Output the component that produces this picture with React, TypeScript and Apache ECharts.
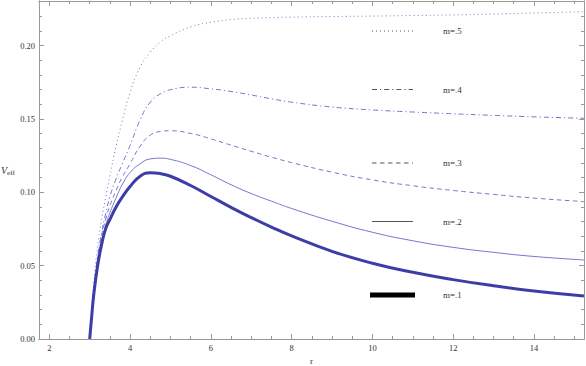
import React, { useEffect, useRef } from "react";
import * as echarts from "echarts";

const R = [3, 3.05, 3.1, 3.2, 3.3, 3.4, 3.5, 3.65, 3.8, 4, 4.25, 4.5, 4.75, 5, 5.5, 6, 6.5, 7, 7.5, 8, 9, 10, 11, 12, 13, 14, 15.24];

const V_M1 = [0, 0.0155, 0.030, 0.0505, 0.065, 0.0755, 0.0815, 0.0898, 0.0965, 0.104, 0.1110, 0.1133, 0.1128, 0.1110, 0.1047, 0.0972, 0.0898, 0.0828, 0.0763, 0.0703, 0.0598, 0.0517, 0.0455, 0.0405, 0.0363, 0.0327, 0.0293];
const V_M2 = [0, 0.016, 0.031, 0.052, 0.067, 0.078, 0.086, 0.096, 0.105, 0.1135, 0.1195, 0.1228, 0.1233, 0.1225, 0.1183, 0.1120, 0.1052, 0.0992, 0.0940, 0.0890, 0.0803, 0.0728, 0.0670, 0.0625, 0.0591, 0.0563, 0.0539];
const V_M3 = [0, 0.017, 0.033, 0.055, 0.071, 0.082, 0.091, 0.101, 0.110, 0.1195, 0.1315, 0.1390, 0.1415, 0.1420, 0.1402, 0.1365, 0.1322, 0.1280, 0.1240, 0.1203, 0.1138, 0.1085, 0.1045, 0.1013, 0.0986, 0.0961, 0.0937];
const V_M4 = [0, 0.018, 0.034, 0.057, 0.073, 0.086, 0.097, 0.109, 0.119, 0.132, 0.1495, 0.1615, 0.1672, 0.1700, 0.1717, 0.1706, 0.1688, 0.1664, 0.1638, 0.1615, 0.1582, 0.1562, 0.1548, 0.1536, 0.1525, 0.1515, 0.1505];
const V_M5 = [0, 0.020, 0.038, 0.064, 0.082, 0.097, 0.111, 0.131, 0.148, 0.168, 0.1855, 0.1955, 0.2025, 0.2068, 0.2128, 0.2160, 0.2178, 0.2187, 0.2192, 0.2195, 0.2199, 0.2202, 0.2206, 0.2210, 0.2216, 0.2223, 0.2233];

const LEGEND_LABELS = ["m=.5", "m=.4", "m=.3", "m=.2", "m=.1"];

const X_LABELS = [2, 4, 6, 8, 10, 12, 14];
const X_MINOR = [2, 2.5, 3, 3.5, 4, 4.5, 5, 5.5, 6, 6.5, 7, 7.5, 8, 8.5, 9, 9.5, 10, 10.5, 11, 11.5, 12, 12.5, 13, 13.5, 14, 14.5, 15];
const Y_LABELS = [0, 0.05, 0.1, 0.15, 0.2];
const Y_MINOR = [0, 0.01, 0.02, 0.03, 0.04, 0.05, 0.06, 0.07, 0.08, 0.09, 0.1, 0.11, 0.12, 0.13, 0.14, 0.15, 0.16, 0.17, 0.18, 0.19, 0.2, 0.21, 0.22, 0.23];

const XMIN = 1.745;
const XMAX = 15.24;
const YMIN = 0;
const YMAX = 0.2305;

const FRAME = "#9a9a9a";
const FONT = "Liberation Serif";

function pairs(ys: number[]) {
  return R.map((r, i) => [r, ys[i]]);
}

export default function App() {
  const ref = useRef<HTMLDivElement>(null);
  useEffect(() => {
    if (!ref.current) return;
    const chart = echarts.init(ref.current, undefined, { renderer: "svg" });

    const xAxis = (pos: string, vals: number[], len: number, labels: boolean) => ({
      type: "value",
      position: pos,
      min: XMIN,
      max: XMAX,
      axisLine: { show: true, onZero: false, lineStyle: { color: FRAME, width: 1 } },
      axisTick: { show: true, inside: true, length: len, customValues: vals, lineStyle: { color: FRAME, width: 1 } },
      axisLabel: labels
        ? { show: true, customValues: X_LABELS, color: "#333", fontFamily: FONT, fontSize: 8.5, margin: 4, formatter: (v: number) => String(v) }
        : { show: false },
      splitLine: { show: false },
    });
    const yAxis = (pos: string, vals: number[], len: number, labels: boolean) => ({
      type: "value",
      position: pos,
      min: YMIN,
      max: YMAX,
      axisLine: { show: true, onZero: false, lineStyle: { color: FRAME, width: 1 } },
      axisTick: { show: true, inside: true, length: len, customValues: vals, lineStyle: { color: FRAME, width: 1 } },
      axisLabel: labels
        ? { show: true, customValues: Y_LABELS, color: "#333", fontFamily: FONT, fontSize: 8.5, margin: 4, formatter: (v: number) => v.toFixed(2) }
        : { show: false },
      splitLine: { show: false },
    });

    const lineSeries = (ys: number[], color: string, width: number, dash: any) => ({
      type: "line",
      data: pairs(ys),
      xAxisIndex: 0,
      yAxisIndex: 0,
      showSymbol: false,
      smooth: 0.5,
      lineStyle: { color, width, type: dash },
      z: 3,
    });

    const legendY = [31, 89.5, 163, 221.5, 295];
    const legendDash: any[] = [[1, 3], [5, 3, 1.2, 3], [4.5, 3.5], null, null];
    const graphic: any[] = [];
    legendY.forEach((y, i) => {
      if (i === 4) {
        graphic.push({ type: "rect", shape: { x: 370, y: y - 2.5, width: 45, height: 5 }, style: { fill: "#000" } });
      } else {
        graphic.push({
          type: "line",
          shape: { x1: 372, y1: y, x2: 413, y2: y },
          style: { stroke: "#555", lineWidth: 1, lineDash: legendDash[i] || undefined },
        });
      }
      graphic.push({
        type: "text",
        x: 443,
        y: y,
        style: { text: LEGEND_LABELS[i], fill: "#333", font: `9px '${FONT}'`, textVerticalAlign: "middle" },
      });
    });
    graphic.push({
      type: "text",
      x: 311.5,
      y: 361,
      style: { text: "r", fill: "#333", font: `9px '${FONT}'`, textAlign: "center", textVerticalAlign: "middle" },
    });
    graphic.push({
      type: "text",
      x: 1,
      y: 170,
      style: {
        text: "{v|V}{s|eff}",
        rich: {
          v: { fontFamily: FONT, fontStyle: "italic", fontSize: 10, fill: "#333" },
          s: { fontFamily: FONT, fontSize: 7, fill: "#333", padding: [5, 0, 0, 0] },
        },
        textVerticalAlign: "middle",
      },
    });

    chart.setOption({
      animation: false,
      backgroundColor: "#fff",
      grid: { left: 39, right: 2, top: 1, bottom: 27, containLabel: false },
      xAxis: [
        xAxis("bottom", X_MINOR, 3, true),
        xAxis("bottom", X_LABELS, 5, false),
        xAxis("top", X_MINOR, 3, false),
        xAxis("top", X_LABELS, 5, false),
      ],
      yAxis: [
        yAxis("left", Y_MINOR, 3, true),
        yAxis("left", Y_LABELS, 5, false),
        yAxis("right", Y_MINOR, 3, false),
        yAxis("right", Y_LABELS, 5, false),
      ],
      series: [
        lineSeries(V_M5, "#7777cc", 1, [1, 3]),
        lineSeries(V_M4, "#7474ca", 1, [5, 3, 1.2, 3]),
        lineSeries(V_M3, "#7474ca", 1, [4.5, 3.5]),
        lineSeries(V_M2, "#7575cc", 1, "solid"),
        lineSeries(V_M1, "#3d3da8", 3, "solid"),
      ],
      graphic,
    });
    return () => chart.dispose();
  }, []);
  return <div ref={ref} style={{ width: 586, height: 366, position: "absolute", left: 0, top: 0 }} />;
}
